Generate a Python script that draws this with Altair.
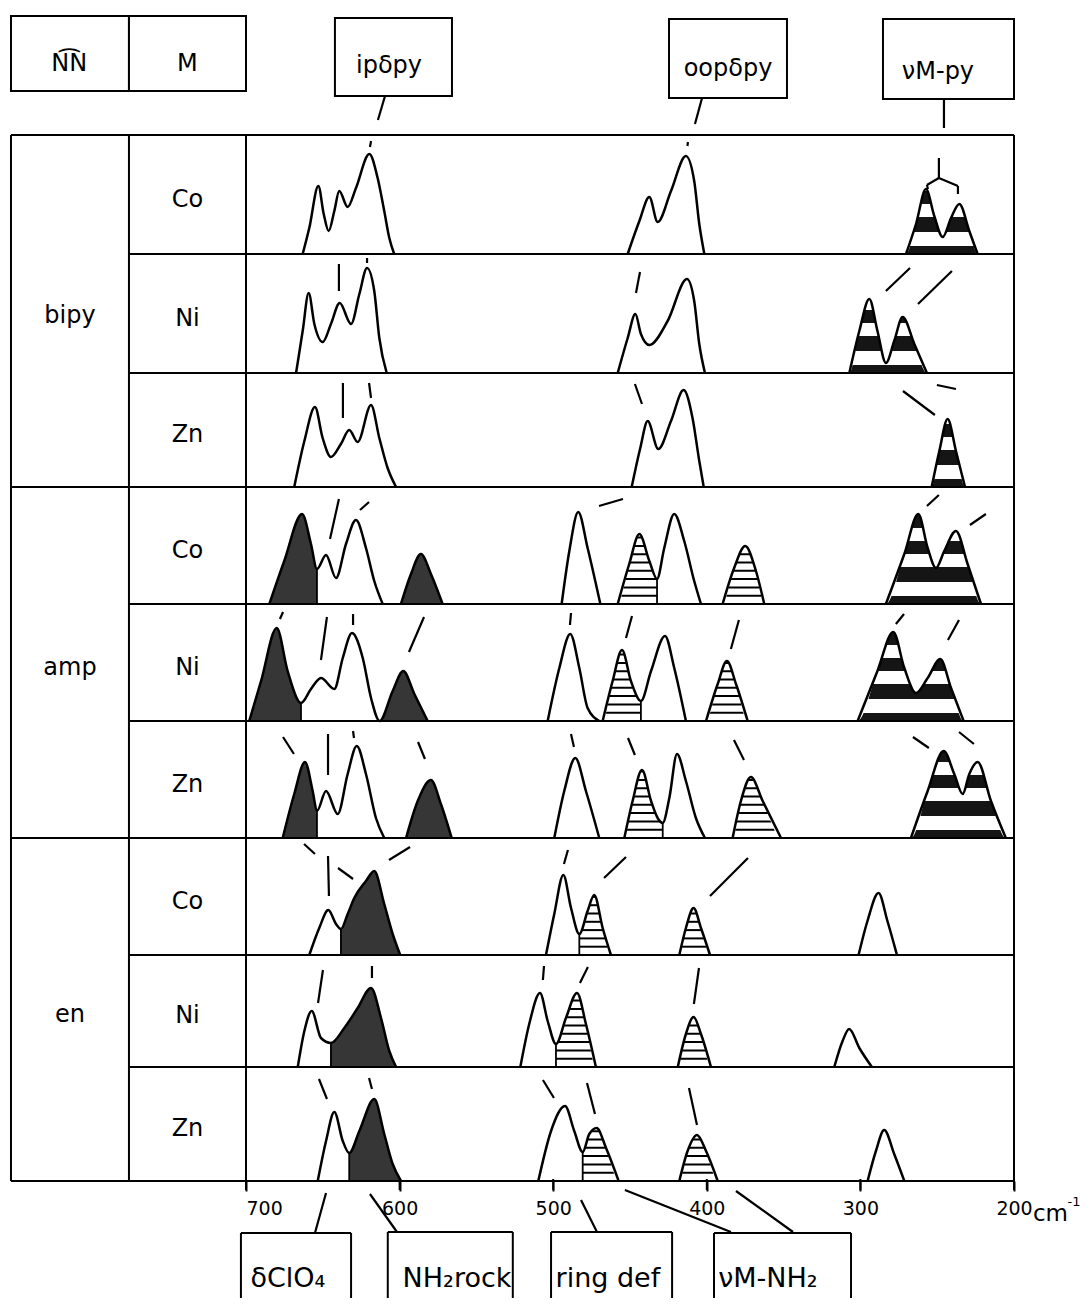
import altair as alt
import pandas as pd

# ---------------- categories / labels ----------------
groups = ["bipy", "amp", "en"]
metals = ["Co", "Ni", "Zn", "Co", "Ni", "Zn", "Co", "Ni", "Zn"]
tick_values = [700, 600, 500, 400, 300, 200]
header_labels = ["ipδpy", "oopδpy", "νM-py"]
footer_labels = ["δClO₄", "NH₂rock", "ring def", "νM-NH₂"]

# ---------------- band outlines: (wavenumber cm-1, height) ----------------
bipy_co = [
    [(663.1, 0), (658.8, 26), (652.9, 68), (649.4, 40), (646.2, 23), (642.5, 43), (639.3, 63), (633.8, 47),
     (628.4, 66), (619.7, 100), (614.3, 76), (610.0, 43), (606.7, 16), (603.5, 0)],
    [(451.5, 0), (443.9, 33), (437.4, 57), (432.0, 32), (423.3, 63), (413.6, 98), (408.2, 73), (404.9, 30), (401.6, 0)],
    [(270.3, 0), (263.8, 30), (257.3, 65), (251.9, 38), (246.4, 17), (241.0, 36), (235.6, 50), (229.1, 23), (223.7, 0)],
]
bipy_ni = [
    [(667.4, 0), (663.1, 42), (659.2, 80), (655.5, 49), (650.1, 31), (644.7, 49), (639.0, 70), (631.6, 49),
     (626.2, 79), (621.2, 105), (616.5, 82), (613.2, 35), (608.4, 0)],
    [(458.0, 0), (451.5, 35), (446.5, 59), (442.9, 39), (437.4, 28), (425.5, 52), (412.9, 94), (408.2, 72), (404.9, 29), (401.2, 0)],
    [(307.2, 0), (300.7, 42), (294.2, 74), (288.9, 42), (283.4, 10), (278.0, 32), (272.5, 56), (264.9, 29), (256.7, 0)],
]
bipy_zn = [
    [(668.6, 0), (662.0, 46), (655.1, 80), (650.1, 49), (644.7, 30), (638.2, 43), (632.8, 57), (627.3, 45),
     (618.6, 82), (613.2, 49), (607.8, 19), (602.3, 0)],
    [(448.9, 0), (443.3, 39), (438.5, 66), (431.6, 38), (423.3, 66), (415.1, 97), (409.3, 69), (404.9, 26), (402.0, 0)],
    [(253.6, 0), (248.6, 36), (243.2, 68), (237.8, 36), (231.9, 0)],
]
amp_co = [
    [(684.8, 0), (675.1, 43), (663.5, 90), (657.7, 60), (653.8, 35), (647.9, 49), (641.4, 26), (634.9, 60),
     (628.4, 84), (621.9, 56), (616.5, 23), (611.0, 0)],
    [(599.1, 0), (592.6, 30), (586.1, 50), (579.6, 30), (572.0, 0)],
    [(494.5, 0), (489.5, 53), (483.7, 92), (477.6, 56), (469.3, 0)],
    [(458.0, 0), (450.5, 40), (443.9, 70), (437.4, 43), (432.4, 25), (427.7, 56), (421.2, 90), (414.7, 63), (408.2, 23), (403.8, 0)],
    [(389.7, 0), (382.2, 36), (375.0, 58), (368.0, 33), (362.6, 0)],
    [(283.4, 0), (271.4, 50), (262.3, 90), (256.2, 56), (250.8, 36), (245.4, 53), (237.8, 73), (230.2, 40), (221.5, 0)],
]
amp_ni = [
    [(697.9, 0), (690.2, 40), (680.0, 93), (672.9, 50), (664.2, 18), (657.7, 32), (651.2, 43), (642.5, 32),
     (637.0, 63), (631.0, 88), (624.0, 63), (618.6, 23), (613.0, 0), (604.5, 30), (597.6, 50), (590.4, 27), (581.7, 0)],
    [(503.6, 0), (496.0, 53), (488.9, 87), (483.0, 53), (477.6, 13), (470.0, 0)],
    [(467.8, 0), (461.3, 40), (455.2, 71), (449.4, 40), (442.9, 20), (436.3, 50), (427.2, 85), (421.2, 53), (413.6, 0)],
    [(400.5, 0), (392.9, 37), (386.9, 60), (381.0, 37), (373.4, 0)],
    [(301.8, 0), (288.9, 50), (278.6, 89), (271.4, 53), (263.8, 28), (256.2, 43), (248.0, 62), (241.0, 33), (232.8, 0)],
]
amp_zn = [
    [(676.1, 0), (668.6, 44), (661.6, 76), (656.6, 47), (653.8, 27), (647.9, 47), (640.3, 24), (633.8, 64),
     (627.9, 92), (621.9, 64), (615.4, 20), (610.0, 0)],
    [(595.8, 0), (588.2, 37), (579.6, 58), (573.1, 34), (566.1, 0)],
    [(499.3, 0), (492.8, 47), (485.6, 80), (478.7, 47), (470.0, 0)],
    [(453.7, 0), (448.3, 37), (442.2, 68), (436.3, 37), (432.0, 20), (428.7, 15), (424.4, 40), (419.4, 84),
     (413.6, 57), (407.1, 20), (401.2, 0)],
    [(383.2, 0), (377.8, 37), (371.3, 61), (363.6, 37), (351.7, 0)],
    [(267.1, 0), (256.2, 47), (245.8, 87), (238.9, 64), (233.4, 44), (229.1, 64), (223.7, 76), (215.0, 37), (205.3, 0)],
]
en_co = [
    [(658.8, 0), (652.3, 27), (646.4, 45), (641.4, 31), (638.2, 26), (633.8, 41), (629.5, 57), (621.9, 74),
     (616.5, 84), (610.0, 51), (604.5, 21), (599.6, 0)],
    [(504.7, 0), (499.3, 41), (493.4, 80), (488.4, 47), (483.0, 21), (477.6, 44), (473.3, 60), (467.8, 27), (462.4, 0)],
    [(417.9, 0), (413.6, 27), (408.6, 47), (403.8, 27), (397.9, 0)],
    [(301.2, 0), (295.4, 34), (288.2, 62), (282.4, 34), (276.2, 0)],
]
en_ni = [
    [(666.3, 0), (662.0, 36), (657.2, 56), (651.2, 29), (644.7, 24), (636.0, 39), (627.3, 59), (618.6, 79),
     (612.1, 49), (606.7, 16), (602.3, 0)],
    [(521.4, 0), (515.6, 43), (508.6, 74), (503.6, 46), (498.2, 23), (491.7, 49), (484.5, 74), (478.7, 43), (472.2, 0)],
    [(418.9, 0), (413.6, 33), (408.6, 50), (403.8, 33), (397.3, 0)],
    [(317.0, 0), (311.6, 26), (307.3, 38), (300.7, 19), (292.5, 0)],
]
en_zn = [
    [(653.3, 0), (647.9, 40), (642.5, 69), (637.0, 40), (632.8, 28), (626.2, 50), (616.5, 82), (610.0, 47),
     (604.5, 17), (599.1, 0)],
    [(509.7, 0), (501.4, 50), (492.3, 75), (486.3, 50), (480.8, 29), (476.5, 47), (471.7, 53), (465.6, 33), (457.4, 0)],
    [(417.9, 0), (412.5, 30), (406.4, 46), (400.5, 30), (392.9, 0)],
    [(295.3, 0), (289.9, 30), (284.5, 51), (278.0, 27), (271.4, 0)],
]
spectra = [bipy_co, bipy_ni, bipy_zn, amp_co, amp_ni, amp_zn, en_co, en_ni, en_zn]

# ---------------- filled band regions: (row, from cm-1, to cm-1) ----------------
dark_regions = [(3, 684.8, 653.8), (3, 599.1, 572.0), (4, 697.9, 664.2), (4, 613.0, 581.7),
                (5, 676.1, 653.8), (5, 595.8, 566.1), (6, 638.2, 599.6), (7, 644.7, 602.3), (8, 632.8, 599.1)]
hatch_regions = [(3, 458.0, 432.4), (3, 389.7, 362.6), (4, 467.8, 442.9), (4, 400.5, 373.4),
                 (5, 453.7, 428.7), (5, 383.2, 351.7), (6, 483.0, 462.4), (6, 417.9, 397.9),
                 (7, 498.2, 472.2), (7, 418.9, 397.3), (8, 480.8, 457.4), (8, 417.9, 392.9)]
stripe_regions = [(0, 270.3, 223.7), (1, 307.2, 256.7), (2, 253.6, 231.9),
                  (3, 283.4, 221.5), (4, 301.8, 232.8), (5, 267.1, 205.3)]

# ---------------- correlation dashes: (row, v1, h1, v2, h2) ----------------
bipy_marks = [
    (0, 618.6, 113, 619.3, 107), (0, 412.3, 112, 412.6, 108),
    (0, 248.9, 96, 248.9, 75), (0, 256.7, 69, 248.9, 76), (0, 248.9, 76, 236.5, 68),
    (0, 236.5, 68, 236.5, 60), (0, 256.7, 69, 256.0, 65),
    (1, 639.5, 109, 639.5, 82), (1, 621.2, 115, 621.2, 110), (1, 443.5, 101, 446.1, 80),
    (1, 267.7, 105, 283.4, 82), (1, 240.4, 102, 262.5, 69),
    (2, 636.9, 104, 636.9, 69), (2, 619.9, 104, 618.6, 89), (2, 446.8, 103, 442.2, 83),
    (2, 272.3, 96, 251.5, 72), (2, 250.2, 102, 237.8, 98),
]
amp_marks = [
    (3, 639.5, 105, 645.3, 65), (3, 619.9, 102, 625.8, 94), (3, 454.6, 105, 470.2, 98),
    (3, 248.9, 109, 256.7, 98), (3, 218.3, 90, 228.7, 79),
    (4, 675.9, 109, 677.9, 102), (4, 647.3, 104, 651.2, 61), (4, 630.3, 107, 630.3, 96),
    (4, 584.1, 104, 593.9, 69), (4, 488.4, 108, 489.1, 96), (4, 448.7, 105, 452.6, 83),
    (4, 379.1, 101, 384.3, 72), (4, 271.6, 107, 276.9, 97), (4, 235.8, 101, 243.0, 81),
    (5, 675.9, 101, 668.8, 84), (5, 646.6, 104, 646.6, 63), (5, 630.3, 107, 629.7, 100),
    (5, 588.0, 96, 583.5, 79), (5, 488.4, 104, 486.5, 91), (5, 451.3, 100, 446.8, 83),
    (5, 382.3, 98, 375.8, 78), (5, 265.8, 101, 255.4, 90), (5, 235.8, 106, 226.1, 94),
]
en_marks = [
    (6, 662.2, 111, 655.1, 101), (6, 646.6, 99, 646.0, 59), (6, 640.1, 87, 630.3, 76),
    (6, 606.9, 95, 593.2, 108), (6, 490.4, 105, 493.0, 91), (6, 452.6, 98, 466.9, 77),
    (6, 373.2, 97, 397.9, 59),
    (7, 649.9, 97, 653.1, 64), (7, 618.0, 101, 618.0, 89), (7, 506.0, 101, 506.7, 87),
    (7, 477.4, 100, 482.6, 84), (7, 405.1, 99, 408.4, 63),
    (8, 652.5, 102, 647.3, 82), (8, 619.9, 103, 618.0, 92), (8, 506.7, 101, 499.5, 83),
    (8, 478.0, 98, 472.8, 67), (8, 411.6, 93, 406.4, 56),
]

# ---------------- layout (cm-1 / pixel units) ----------------
X_LEFT, X_MCOL, X_PL, X_PR = 853.0, 776.2, 700.0, 200.0
row_base = [927, 808, 694, 577, 460, 343, 226, 114, 0]
row_top = [1046, 927, 808, 694, 577, 460, 343, 226, 114]
header_boxes = [(853.0, 776.2, 1165, 1090), (776.2, 700.0, 1165, 1090), (642.1, 565.9, 1163, 1085),
                (424.6, 347.8, 1162, 1083), (285.3, 200.0, 1162, 1082)]
header_text_pos = [(606.9, 1115), (386.2, 1112), (249.5, 1109)]
header_leaders = [(609.5, 1085, 614.1, 1061), (403.1, 1083, 407.7, 1057), (245.6, 1082, 245.6, 1053)]
# open-bottom boxes (they run off the page): (left, right, top)
footer_boxes = [(703.3, 631.6, -52), (607.7, 526.3, -51), (501.4, 422.6, -51), (395.3, 306.1, -52)]
FOOT_END = -117
footer_text_pos = [(672.7, -98), (562.6, -98), (464.4, -98), (360.2, -98)]
footer_leaders = [(647.9, -12, 655.1, -52), (619.3, -13, 601.7, -51), (481.9, -19, 471.5, -51),
                  (453.3, -9, 384.3, -51), (381.0, -10, 343.9, -51)]
stripe_black = [(0, 8), (22, 37), (50, 63), (76, 89)]
hatch_step = 8.3

xs = alt.Scale(domain=[200, 700], reverse=True, nice=False, zero=False)
ys = alt.Scale(domain=[0, 1046], nice=False, zero=False)
x_axis = alt.Axis(
    values=tick_values, domain=False, grid=False, ticks=True, tickSize=10, tickWidth=2, tickColor="black",
    labelFont="DejaVu Sans", labelFontSize=19, labelColor="black", labelPadding=8, labelFlush=False,
    labelAlign={"condition": {"test": "datum.value == 700", "value": "left"}, "value": "center"},
    title=None, zindex=2)


def seg_of(r, vhi, vlo):
    for s, pts in enumerate(spectra[r]):
        vs = [p[0] for p in pts]
        if max(vs) >= vhi - 0.05 and min(vs) <= vlo + 0.05:
            return s, pts
    raise ValueError((r, vhi, vlo))


def h_at(pts, v):
    return min(pts, key=lambda p: abs(p[0] - v))[1]


# outlines
outline_rows = []
for r, segs in enumerate(spectra):
    for s, pts in enumerate(segs):
        for v, h in pts:
            outline_rows.append(dict(seg=f"{r}-{s}", v=v, y=row_base[r] + h))
outline_df = pd.DataFrame(outline_rows)

# dark stippled fills (full segment area, then white-out of the unfilled parts)
dark_by_seg = {}
for r, vhi, vlo in dark_regions:
    s, pts = seg_of(r, vhi, vlo)
    dark_by_seg.setdefault((r, s), []).append((vhi, vlo))
dark_rows, white_rows = [], []
for (r, s), regs in dark_by_seg.items():
    pts = spectra[r][s]
    for v, h in pts:
        dark_rows.append(dict(seg=f"{r}-{s}", v=v, y=row_base[r] + h, base=row_base[r]))
    vmax = max(p[0] for p in pts)
    vmin = min(p[0] for p in pts)
    cur = vmax + 1
    for vhi, vlo in sorted(regs, reverse=True):
        if cur > vhi + 0.5:
            white_rows.append(dict(v1=cur, v2=vhi, y1=row_base[r] + 1, y2=row_top[r]))
        cur = vlo
    if cur > vmin + 0.5:
        white_rows.append(dict(v1=cur, v2=vmin - 1, y1=row_base[r] + 1, y2=row_top[r]))
dark_df = pd.DataFrame(dark_rows)
white_df = pd.DataFrame(white_rows)

# hatch lines / thick stripes + white mask above the outline
band_rows, stripe_rows, mask_rows, cut_rows = [], [], [], []
for idx, (r, vhi, vlo) in enumerate(hatch_regions + stripe_regions):
    s, pts = seg_of(r, vhi, vlo)
    inds = [i for i, (v, h) in enumerate(pts) if vlo - 0.05 <= v <= vhi + 0.05]
    hmax = max(pts[i][1] for i in inds)
    b = row_base[r]
    if idx < len(hatch_regions):
        k = 1
        while k * hatch_step < hmax:
            lev = k * hatch_step
            band_rows.append(dict(v1=vhi, v2=vlo, y1=b + lev - 1.0, y2=b + lev + 1.0))
            k += 1
    else:
        for lo, hi in stripe_black:
            if lo < hmax:
                stripe_rows.append(dict(v1=vhi, v2=vlo, y1=b + lo, y2=b + min(hi, hmax + 2)))
    i0 = max(min(inds) - 1, 0)
    i1 = min(max(inds) + 1, len(pts) - 1)
    part = list(pts[i0:i1 + 1])
    if i0 == 0:
        part = [(pts[0][0] + 2.0, 0)] + part
    if i1 == len(pts) - 1:
        part = part + [(pts[-1][0] - 2.0, 0)]
    for v, h in part:
        mask_rows.append(dict(id=idx, v=v, y=b + h, top=row_top[r] - 1))
for r, vhi, vlo in dark_regions + hatch_regions:
    s, pts = seg_of(r, vhi, vlo)
    for v in (vhi, vlo):
        h = h_at(pts, v)
        if h > 0:
            cut_rows.append(dict(v1=v, v2=v, y1=row_base[r], y2=row_base[r] + h))
band_df = pd.DataFrame(band_rows)
stripe_df = pd.DataFrame(stripe_rows)
mask_df = pd.DataFrame(mask_rows)
cut_df = pd.DataFrame(cut_rows)

# dashes and leader lines
line_rows = []
for r, v1, h1, v2, h2 in bipy_marks + amp_marks + en_marks:
    line_rows.append(dict(v1=v1, y1=row_base[r] + h1, v2=v2, y2=row_base[r] + h2))
for v1, y1, v2, y2 in header_leaders + footer_leaders:
    line_rows.append(dict(v1=v1, y1=y1, v2=v2, y2=y2))
dash_df = pd.DataFrame(line_rows)

# tick marks under the baseline (drawn through the x scale)
tick_df = pd.DataFrame([dict(v1=t, v2=t, y1=2, y2=-9) for t in tick_values])

# table grid + open-bottom footer boxes
grid_rows = [
    dict(v1=X_LEFT, v2=X_PR, y1=1046, y2=1046),
    dict(v1=X_LEFT, v2=X_PR, y1=0, y2=0),
    dict(v1=X_LEFT, v2=X_PR, y1=row_base[2], y2=row_base[2]),
    dict(v1=X_LEFT, v2=X_PR, y1=row_base[5], y2=row_base[5]),
]
for i in (0, 1, 3, 4, 6, 7):
    grid_rows.append(dict(v1=X_MCOL, v2=X_PR, y1=row_base[i], y2=row_base[i]))
for xv in (X_LEFT, X_MCOL, X_PL, X_PR):
    grid_rows.append(dict(v1=xv, v2=xv, y1=0, y2=1046))
for a, b, t in footer_boxes:
    grid_rows.append(dict(v1=a, v2=b, y1=t, y2=t))
    grid_rows.append(dict(v1=a, v2=a, y1=t, y2=FOOT_END))
    grid_rows.append(dict(v1=b, v2=b, y1=t, y2=FOOT_END))
grid_df = pd.DataFrame(grid_rows)

box_df = pd.DataFrame([dict(v1=a, v2=b, y1=c, y2=d) for a, b, c, d in header_boxes])

# texts
group_df = pd.DataFrame([dict(label=g, v=(X_LEFT + X_MCOL) / 2,
                              y=(row_top[3 * i] + row_base[3 * i + 2]) / 2 - 5) for i, g in enumerate(groups)])
metal_df = pd.DataFrame([dict(label=m, v=(X_MCOL + X_PL) / 2,
                              y=(row_top[i] + row_base[i]) / 2 - 5) for i, m in enumerate(metals)])
head_df = pd.DataFrame([dict(label="N\u0361N", v=(X_LEFT + X_MCOL) / 2 + 0.5, y=1117),
                        dict(label="M", v=(X_MCOL + X_PL) / 2, y=1117)] +
                       [dict(label=t, v=p[0], y=p[1]) for t, p in zip(header_labels, header_text_pos)])
foot_df = pd.DataFrame([dict(label=t, v=p[0], y=p[1]) for t, p in zip(footer_labels, footer_text_pos)])
unit_df = pd.DataFrame([dict(label="cm", v=187.7, y=-33)])
unit_sup_df = pd.DataFrame([dict(label="-1", v=165.2, y=-21)])


def X(f):
    return alt.X(f, type="quantitative", scale=xs, axis=x_axis)


def Y(f):
    return alt.Y(f, type="quantitative", scale=ys, axis=None, stack=None)


def rules(df, width):
    return alt.Chart(df).mark_rule(color="black", strokeWidth=width).encode(
        x=X("v1"), x2="v2:Q", y=Y("y1"), y2="y2:Q")


dark_layer = alt.Chart(dark_df).mark_area(interpolate="monotone", color="#363636").encode(
    x=X("v"), y=Y("y"), y2="base:Q", detail="seg:N")
white_layer = alt.Chart(white_df).mark_rect(color="white").encode(x=X("v1"), x2="v2:Q", y=Y("y1"), y2="y2:Q")
band_layer = alt.Chart(band_df).mark_rect(color="black").encode(x=X("v1"), x2="v2:Q", y=Y("y1"), y2="y2:Q")
stripe_layer = alt.Chart(stripe_df).mark_rect(color="#151515").encode(x=X("v1"), x2="v2:Q", y=Y("y1"), y2="y2:Q")
mask_layer = alt.Chart(mask_df).mark_area(interpolate="monotone", color="white").encode(
    x=X("v"), y=Y("y"), y2="top:Q", detail="id:N")
outline_layer = alt.Chart(outline_df).mark_line(interpolate="monotone", color="black", strokeWidth=2.5).encode(
    x=X("v"), y=Y("y"), detail="seg:N")
box_layer = alt.Chart(box_df).mark_rect(fill="white", stroke="black", strokeWidth=2).encode(
    x=X("v1"), x2="v2:Q", y=Y("y1"), y2="y2:Q")


def text_layer(df, size, align="center", baseline="middle"):
    return alt.Chart(df).mark_text(font="DejaVu Sans", fontSize=size, color="black", align=align,
                                   baseline=baseline).encode(x=X("v"), y=Y("y"), text="label:N")


chart = alt.layer(
    dark_layer, white_layer, band_layer, stripe_layer, mask_layer, outline_layer,
    rules(cut_df, 1.8), rules(dash_df, 2.2), rules(grid_df, 2), rules(tick_df, 2), box_layer,
    text_layer(group_df, 24), text_layer(metal_df, 24), text_layer(head_df, 24),
    text_layer(foot_df, 27), text_layer(unit_df, 23, "left"), text_layer(unit_sup_df, 13, "left"),
).properties(
    width=768, height=1046, padding={"left": 1, "top": 6, "right": 0, "bottom": 0}
).configure_view(stroke=None)

chart.save("out.html", embed_options={"renderer": "svg", "actions": False})
